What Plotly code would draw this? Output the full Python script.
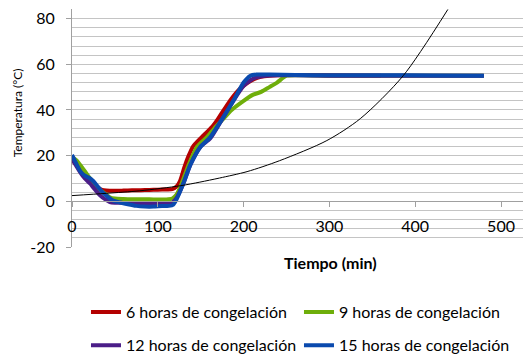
import plotly.graph_objects as go

# ---- data ----
t_6h = [0, 5, 10, 15, 20, 25, 30, 35, 40, 50, 60, 70, 80, 90, 100, 110, 117, 122, 126, 131, 136, 141, 151, 163, 170, 184, 195, 205, 212, 220, 230, 240, 260, 300, 360]
T_6h = [18.5, 16, 14, 12, 9.5, 7.5, 6, 5, 4.7, 4.6, 4.7, 4.8, 4.9, 5.0, 5.1, 5.2, 5.3, 6.5, 9, 15, 20, 24, 28, 32.5, 36, 44, 49, 52, 53.5, 54.5, 55, 55.2, 55.3, 55.2, 55]

t_9h = [0, 5, 13, 20, 25, 30, 36, 44, 50, 60, 70, 80, 90, 100, 110, 117, 122, 128, 136, 146, 157, 166, 176, 186, 200, 210, 221, 230, 239, 250, 270, 300, 360, 480]
T_9h = [19.5, 18, 14.2, 10.5, 8.3, 6, 4, 1.8, 1.2, 1.0, 0.9, 0.9, 0.9, 0.8, 0.8, 1.2, 3, 8, 16, 24, 28, 32, 36, 40, 44, 46.5, 48, 50, 52, 55, 55.2, 55, 55, 55]

t_12h = [0, 5, 10, 15, 21, 25, 33, 40, 44, 50, 60, 70, 80, 90, 100, 110, 117, 122, 130, 138, 150, 161, 175, 188, 200, 208, 215, 225, 240, 260, 300, 360, 480]
T_12h = [18.5, 15.5, 12.5, 10, 7.8, 6, 2.5, 0.5, -0.3, -0.6, -0.7, -0.8, -0.8, -0.8, -0.7, -0.8, -0.5, 1.5, 8, 16, 24, 27.5, 36, 44, 50.5, 53, 54.3, 55, 55.2, 55.2, 55, 55, 55]

t_15h = [0, 5, 10, 15, 20, 25, 30, 35, 40, 48, 56, 65, 75, 85, 95, 105, 113, 118, 122, 130, 138, 150, 161, 175, 188, 200, 208, 215, 230, 260, 300, 360, 420, 480]
T_15h = [20.3, 16.5, 13, 11.2, 10.3, 8.8, 6.5, 4.2, 2.5, 0.3, -0.5, -1.3, -2.0, -2.3, -2.3, -2.0, -2.0, -1.5, 1.0, 8, 16, 24, 28, 36, 44, 52, 55, 55.5, 55.5, 55.3, 55.2, 55.2, 55.1, 55]

t_trend = [0, 40, 79, 126, 149, 172, 204, 242, 297, 336, 386, 438]
T_trend = [2.5, 3.5, 4.6, 6.8, 8.4, 10.2, 13.0, 17.8, 26.6, 36.2, 55, 84]

names = ["6 horas de congelación", "9 horas de congelación",
         "12 horas de congelación", "15 horas de congelación"]
colors = ["#B40000", "#6EAE0A", "#4B1E88", "#0A4AAE"]
x_ticks = [0, 100, 200, 300, 400, 500]
y_ticks = [-20, 0, 20, 40, 60, 80]
y_ticktext = ["-20", "0", "20", "40", "60", "80"]
y_minor = list(range(-20, 85, 4))

FONT = "Lato"

fig = go.Figure()
series = [(t_6h, T_6h), (t_9h, T_9h), (t_12h, T_12h), (t_15h, T_15h)]
legends = ["legend", "legend", "legend2", "legend2"]
for (tx, ty), nm, c, lg in zip(series, names, colors, legends):
    fig.add_trace(go.Scatter(x=tx, y=ty, name=nm, mode="lines",
                             line=dict(color=c, width=4, shape="spline", smoothing=0.6),
                             legend=lg))
fig.add_trace(go.Scatter(x=t_trend, y=T_trend, mode="lines", showlegend=False,
                         line=dict(color="black", width=1, shape="spline", smoothing=0.8)))

grid = "#C4C4C4"
fig.update_layout(
    width=523, height=359,
    margin=dict(l=72, r=0, t=9, b=112, autoexpand=False),
    paper_bgcolor="white", plot_bgcolor="white",
    font=dict(family=FONT, size=16, color="black"),
    xaxis=dict(range=[0, 525.6], tickvals=x_ticks, ticks="outside", ticklen=5,
               tickcolor="#A0A0A0", showgrid=False, zeroline=False,
               showline=True, linecolor="#A0A0A0", linewidth=1,
               anchor="free", position=20 / 104.2, ticklabelstandoff=5,
               tickfont=dict(size=16)),
    yaxis=dict(range=[-20, 84.2], tickvals=y_ticks, ticktext=y_ticktext,
               ticks="outside", ticklen=5,
               tickcolor="#A0A0A0", showgrid=True, gridcolor=grid, gridwidth=1,
               zeroline=False, showline=True, linecolor="#A0A0A0", linewidth=1,
               ticklabelstandoff=8, tickfont=dict(size=16),
               minor=dict(tickvals=y_minor, showgrid=True, gridcolor=grid, gridwidth=1,
                          ticks="")),
    legend=dict(orientation="h", x=0.031, y=-0.274, xanchor="left", yanchor="middle",
                entrywidth=168, entrywidthmode="pixels", font=dict(size=16),
                bgcolor="rgba(0,0,0,0)"),
    legend2=dict(orientation="h", x=0.031, y=-0.413, xanchor="left", yanchor="middle",
                 entrywidth=168, entrywidthmode="pixels", font=dict(size=16),
                 bgcolor="rgba(0,0,0,0)"),
    annotations=[
        dict(text="<b>Tiempo (min)</b>", xref="paper", yref="paper", x=(330 - 72) / 451,
             y=(246.7 - 262) / 238, showarrow=False, xanchor="center", yanchor="middle",
             font=dict(size=16, family=FONT, color="black")),
        dict(text="Temperatura (°C)", xref="paper", yref="paper", x=(17 - 72) / 451,
             y=(246.7 - 113) / 238, showarrow=False, xanchor="center", yanchor="middle",
             textangle=-90, font=dict(size=12, family=FONT, color="black")),
    ],
)
fig.write_html("out.html", config={"displayModeBar": False},
               post_script="document.body.style.margin='0';document.body.style.overflow='hidden';")
